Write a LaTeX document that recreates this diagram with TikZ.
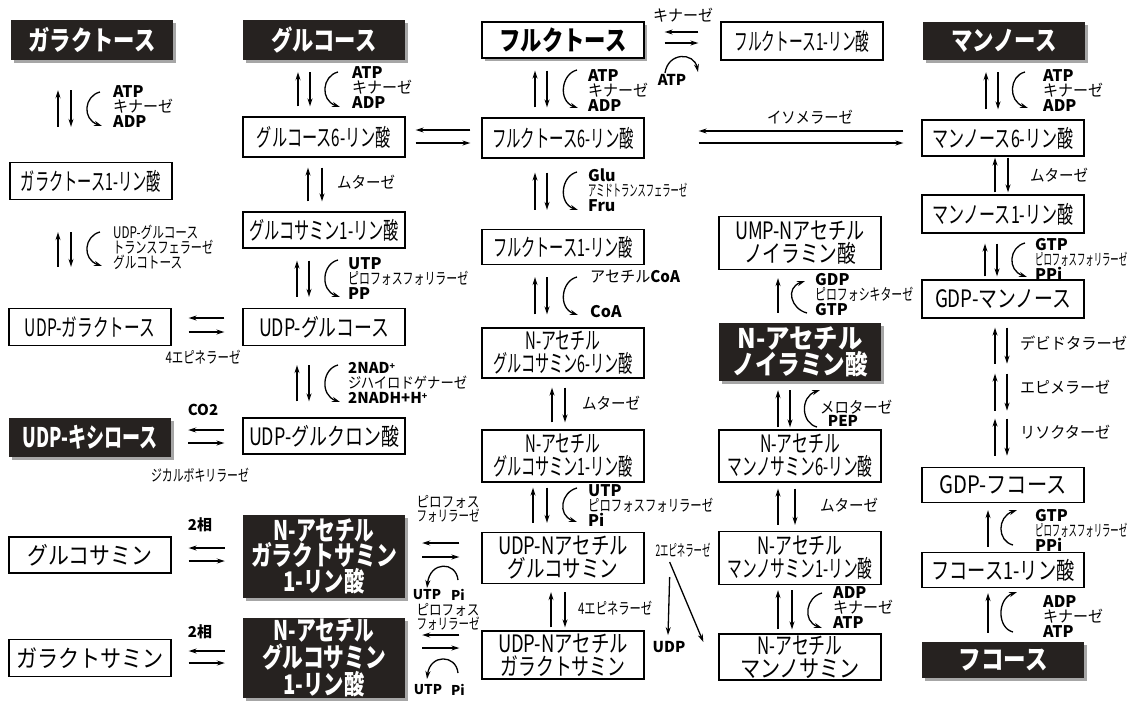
\documentclass[tikz,border=0pt]{standalone}
\usepackage{fontspec}
\setmainfont{Noto Sans CJK JP}
\usetikzlibrary{arrows.meta,shadows,calc}
\definecolor{darkbox}{RGB}{38,34,32}
\newcommand\fw[2]{\resizebox{#1pt}{\height}{#2}}
\newcommand\lat[1]{\textbf{#1}}
\newcommand\supp{\raisebox{0.3em}{\fontsize{9}{9}\selectfont +}}
\tikzset{
 wbox/.style={draw, line width=1.3pt, fill=white, inner sep=0pt, minimum width=162pt, align=center, font=\fontsize{24}{23}\selectfont},
 dbox/.style={fill=darkbox, text=white, inner sep=0pt, minimum width=162pt, align=center, font=\bfseries\fontsize{27}{25}\selectfont, drop shadow={shadow xshift=3pt, shadow yshift=-3pt, fill=black!35, opacity=1}},
 arr/.style={line width=1.3pt, -{Stealth[length=8pt,width=5pt]}},
 curv/.style={line width=1.3pt, -{Stealth[length=8pt,width=5pt]}},
 lbl/.style={font=\fontsize{16}{15}\selectfont, align=left, inner sep=0pt, anchor=west},
 clbl/.style={font=\fontsize{16}{15}\selectfont, align=center, inner sep=0pt},
 blbl/.style={font=\bfseries\fontsize{15}{15}\selectfont, align=center, inner sep=0pt},
}
% vertical pair: top, bottom, dx up, dx down, gap top, gap bottom
\newcommand\vpair[6]{%
 \draw[arr] ($(#1.south |- #2.north)+(#3,-#6)$) -- ($(#1.south)+(#3,#5)$);
 \draw[arr] ($(#1.south)+(#4,#5)$) -- ($(#1.south |- #2.north)+(#4,-#6)$);}
% horizontal pair: left, right, dy of left-pointing, dy of right-pointing, gap left, gap right
\newcommand\hpair[6]{%
 \draw[arr] ($(#2.west |- #1.east)+(-#6,#3)$) -- ($(#1.east)+(#5,#3)$);
 \draw[arr] ($(#1.east)+(#5,#4)$) -- ($(#2.west |- #1.east)+(-#6,#4)$);}
\newcommand\darc[4]{\draw[curv] (#1,#2) .. controls (#1-16,#2+4) and (#3-20,#4-7) .. (#3,#4);}
\newcommand\uarc[4]{\draw[curv] (#1,#2) .. controls (#1-16,#2-4) and (#3-20,#4+7) .. (#3,#4);}
\begin{document}
\begin{tikzpicture}[x=1pt,y=-1pt]
\useasboundingbox[fill=white] (0,0) rectangle (1132,702);
% ---- boxes ----
\node[dbox, minimum height=40pt] (gal) at (92,40) {\fw{127}{ガラクトース}};
\node[dbox, minimum height=40pt] (glc) at (324,40) {\fw{105}{グルコース}};
\node[wbox, minimum height=36pt, font=\bfseries\fontsize{27}{25}\selectfont, drop shadow={shadow xshift=3pt, shadow yshift=-3pt, fill=black!35, opacity=1}] (fru) at (563,40) {\fw{127}{フルクトース}};
\node[wbox, minimum height=38pt] (fru1pt) at (802,41) {\fw{135}{フルクトース1-リン酸}};
\node[dbox, minimum height=38pt] (man) at (1004,41) {\fw{105}{マンノース}};
\node[wbox, minimum height=37pt] (gal1p) at (91,181) {\fw{140}{ガラクトース1-リン酸}};
\node[wbox, minimum height=40pt] (glc6p) at (324,137) {\fw{134}{グルコース6-リン酸}};
\node[wbox, minimum height=40pt] (fru6p) at (563,138) {\fw{142}{フルクトース6-リン酸}};
\node[wbox, minimum height=36pt] (man6p) at (1003,138) {\fw{141}{マンノース6-リン酸}};
\node[wbox, minimum height=36pt] (glcn1p) at (324,230) {\fw{150}{グルコサミン1-リン酸}};
\node[wbox, minimum height=35pt] (fru1p) at (563,247) {\fw{140}{フルクトース1-リン酸}};
\node[wbox, minimum height=53pt] (ump) at (800,243) {\fw{130}{UMP-Nアセチル}\\\fw{112}{ノイラミン酸}};
\node[wbox, minimum height=38pt] (man1p) at (1003,214) {\fw{141}{マンノース1-リン酸}};
\node[wbox, minimum height=37pt] (udpgal) at (90,327) {\fw{130}{UDP-ガラクトース}};
\node[wbox, minimum height=37pt] (udpglc) at (324,327) {\fw{130}{UDP-グルコース}};
\node[wbox, minimum height=50pt] (nag6p) at (563,353) {\fw{75}{N-アセチル}\\\fw{140}{グルコサミン6-リン酸}};
\node[dbox, minimum height=58pt] (neuac) at (800,352) {\fw{125}{N-アセチル}\\\fw{135}{ノイラミン酸}};
\node[wbox, minimum height=38pt] (gdpman) at (1003,299) {\fw{136}{GDP-マンノース}};
\node[dbox, minimum height=39pt] (udpxyl) at (90,437) {\fw{135}{UDP-キシロース}};
\node[wbox, minimum height=36pt] (udpglca) at (324,436) {\fw{150}{UDP-グルクロン酸}};
\node[wbox, minimum height=52pt] (nag1p) at (563,456) {\fw{75}{N-アセチル}\\\fw{140}{グルコサミン1-リン酸}};
\node[wbox, minimum height=52pt] (nam6p) at (800,456) {\fw{80}{N-アセチル}\\\fw{145}{マンノサミン6-リン酸}};
\node[wbox, minimum height=35pt] (gdpfuc) at (1003,485) {\fw{127}{GDP-フコース}};
\node[wbox, minimum height=36pt] (glcn) at (90,555) {\fw{125}{グルコサミン}};
\node[dbox, minimum height=83pt] (nagaln1pd) at (324,556) {\fw{101}{N-アセチル}\\\fw{146}{ガラクトサミン}\\\fw{81}{1-リン酸}};
\node[wbox, minimum height=51pt] (udpglcnac) at (563,558) {\fw{130}{UDP-Nアセチル}\\\fw{111}{グルコサミン}};
\node[wbox, minimum height=53pt] (nam1p) at (800,558) {\fw{85}{N-アセチル}\\\fw{145}{マンノサミン1-リン酸}};
\node[wbox, minimum height=35pt] (fuc1p) at (1003,570) {\fw{143}{フコース1-リン酸}};
\node[wbox, minimum height=37pt] (galn) at (90,658) {\fw{148}{ガラクトサミン}};
\node[dbox, minimum height=80pt] (naglcn1pd) at (324,658) {\fw{101}{N-アセチル}\\\fw{124}{グルコサミン}\\\fw{81}{1-リン酸}};
\node[wbox, minimum height=48pt] (udpgalnac) at (563,655) {\fw{130}{UDP-Nアセチル}\\\fw{125}{ガラクトサミン}};
\node[wbox, minimum height=46pt] (nam) at (800,657) {\fw{85}{N-アセチル}\\\fw{120}{マンノサミン}};
\node[dbox, minimum height=36pt] (fuc) at (1003,660) {\fw{89}{フコース}};
% ---- vertical pairs ----
\vpair{gal}{gal1p}{-34}{-21}{30}{35}
\vpair{glc}{glc6p}{-26}{-14}{12}{10}
\vpair{glc6p}{glcn1p}{-16}{-2}{10}{10}
\vpair{glcn1p}{udpglc}{-27}{-15}{12}{11}
\vpair{udpglc}{udpglca}{-27}{-15}{19}{16}
\vpair{gal1p}{udpgal}{-33}{-20}{32}{41}
\vpair{fru}{fru6p}{-28}{-16}{12}{10}
\vpair{fru6p}{fru1p}{-28}{-16}{14}{19}
\vpair{fru1p}{nag6p}{-28}{-16}{12}{13}
\vpair{nag6p}{nag1p}{-11}{2}{9}{7}
\vpair{nag1p}{udpglcnac}{-30}{-16}{5}{9}
\vpair{udpglcnac}{udpgalnac}{-12}{2}{8}{3}
\vpair{man}{man6p}{-18}{-6}{12}{10}
\vpair{man6p}{man1p}{-8}{5}{1}{2}
\vpair{man1p}{gdpman}{-18}{-6}{10}{3}
\vpair{neuac}{nam6p}{-22}{-10}{9}{2}
\vpair{nam6p}{nam1p}{-22}{-5}{6}{6}
\vpair{nam1p}{nam}{-22}{-8}{5}{4}
\foreach \a/\b in {9/45,55/92,100/137}{
 \draw[arr] ($(gdpman.south)+(-8,\b)$) -- ($(gdpman.south)+(-8,\a)$);
 \draw[arr] ($(gdpman.south)+(4,\a)$) -- ($(gdpman.south)+(4,\b)$);}
% single up arrows
\draw[arr] ($(ump.south |- neuac.north)+(-22,-10)$) -- ($(ump.south)+(-22,8)$);
\draw[arr] ($(gdpfuc.south |- fuc1p.north)+(-15,-5)$) -- ($(gdpfuc.south)+(-15,7)$);
\draw[arr] ($(fuc1p.south |- fuc.north)+(-15,-9)$) -- ($(fuc1p.south)+(-15,5)$);
% ---- horizontal pairs ----
\hpair{udpgal}{udpglc}{-9}{5}{17}{18}
\hpair{udpxyl}{udpglca}{-7}{6}{17}{18}
\hpair{glcn}{nagaln1pd}{-7}{6}{17}{18}
\hpair{galn}{naglcn1pd}{-7}{5}{17}{18}
\hpair{glc6p}{fru6p}{-7}{6}{10}{11}
\hpair{nagaln1pd}{udpglcnac}{-13}{1}{17}{22}
\hpair{naglcn1pd}{udpgalnac}{-23}{-10}{17}{22}
\hpair{fru}{fru1pt}{-8}{3}{20}{22}
\hpair{fru6p}{man6p}{-7}{5}{54}{18}
% ---- epimerase arrows ----
\node[blbl] (udp) at (669,647) {UDP};
\node[clbl] (epi2) at (683,550) {\fw{55}{2エピネラーゼ}};
\draw[arr] ($(udpglcnac.east)+(25,19)$) -- ($(udp.north)+(-1,-6)$);
\draw[arr] ($(udpglcnac.east)+(25,4)$) -- ($(nam.west)+(-15,-15)$);
% ---- curved arrows ----
\darc{100}{92}{102}{126}
\darc{338}{72}{340}{107}
\darc{577}{70}{578}{108}
\darc{1025}{72}{1028}{108}
\darc{577}{172}{578}{210}
\darc{100}{232}{102}{266}
\darc{338}{260}{340}{297}
\darc{338}{365}{340}{402}
\darc{577}{277}{578}{315}
\darc{1025}{243}{1027}{277}
\darc{577}{488}{577}{522}
\darc{822}{593}{822}{628}
\uarc{807}{313}{805}{281}
\uarc{817}{427}{820}{390}
\uarc{1013}{545}{1017}{510}
\uarc{1013}{632}{1017}{592}
\draw[curv] (665,73) .. controls (668,52) and (694,52) .. (698,72);
\draw[curv] (458,580) .. controls (456,561) and (430,561) .. (427,588);
\draw[curv] (458,673) .. controls (456,654) and (430,654) .. (427,679);
% ---- labels ----
\node[lbl] (l1) at (113,107) {\lat{ATP}\\\fw{60}{キナーゼ}\\\lat{ADP}};
\node[lbl] (l2) at (352,88) {\lat{ATP}\\\fw{60}{キナーゼ}\\\lat{ADP}};
\node[lbl] (l3) at (588,91) {\lat{ATP}\\\fw{60}{キナーゼ}\\\lat{ADP}};
\node[lbl] (l4) at (1043,91) {\lat{ATP}\\\fw{60}{キナーゼ}\\\lat{ADP}};
\node[lbl] (l5) at (113,247) {\fw{85}{UDP-グルコース}\\\fw{100}{トランスフェラーゼ}\\\fw{69}{グルコトース}};
\node[lbl] (l6) at (348,279) {\lat{UTP}\\\fw{120}{ピロフォスフォリラーゼ}\\\lat{PP}};
\node[lbl, font=\fontsize{15}{15}\selectfont] (l7) at (348,383) {\lat{2NAD\supp}\\\fw{119}{ジハイロドゲナーゼ}\\\lat{2NADH+H\supp}};
\node[lbl] (l8) at (588,190) {\lat{Glu}\\\fw{99}{アミドトランスフェラーゼ}\\\lat{Fru}};
\node[lbl] (l9) at (590,277) {\fw{90}{アセチル\lat{CoA}}};
\node[lbl] (l10) at (590,312) {\lat{CoA}};
\node[lbl] (l11) at (337,182) {\fw{58}{ムターゼ}};
\node[lbl] (l12) at (582,403) {\fw{58}{ムターゼ}};
\node[lbl] (l13) at (588,506) {\lat{UTP}\\\fw{125}{ピロフォスフォリラーゼ}\\\lat{Pi}};
\node[lbl] (l14) at (578,608) {\fw{74}{4エピネラーゼ}};
\node[lbl] (l15) at (815,295) {\lat{GDP}\\\fw{98}{ピロフォシキターゼ}\\\lat{GTP}};
\node[lbl] (l16) at (820,407) {\fw{72}{メロターゼ}};
\node[blbl] (l17) at (843,421) {PEP};
\node[lbl] (l18) at (820,505) {\fw{58}{ムターゼ}};
\node[lbl] (l19) at (833,608) {\lat{ADP}\\\fw{60}{キナーゼ}\\\lat{ATP}};
\node[lbl] (l20) at (1030,175) {\fw{58}{ムターゼ}};
\node[lbl] (l21) at (1035,259) {\lat{GTP}\\\fw{92}{ピロフォスフォリラーゼ}\\\lat{PPi}};
\node[lbl] (l22) at (1020,343) {\fw{107}{デビドタラーゼ}};
\node[lbl] (l23) at (1020,387) {\fw{90}{エピメラーゼ}};
\node[lbl] (l24) at (1020,432) {\fw{90}{リソクターゼ}};
\node[lbl] (l25) at (1035,530) {\lat{GTP}\\\fw{92}{ピロフォスフォリラーゼ}\\\lat{PPi}};
\node[lbl] (l26) at (1043,617) {\lat{ADP}\\\fw{60}{キナーゼ}\\\lat{ATP}};
\node[clbl] (l27) at (683,15) {\fw{60}{キナーゼ}};
\node[blbl] (l28) at (672,80) {ATP};
\node[clbl] (l29) at (810,117) {\fw{86}{イソメラーゼ}};
\node[clbl] (l30) at (203,357) {\fw{75}{4エピネラーゼ}};
\node[blbl] (l31) at (203,410) {CO2};
\node[clbl] (l32) at (200,475) {\fw{98}{ジカルボキリラーゼ}};
\node[blbl] (l33) at (200,525) {2相};
\node[blbl] (l34) at (200,632) {2相};
\node[clbl, font=\fontsize{15}{13}\selectfont] (l35) at (448,509) {\fw{63}{ピロフォス}\\\fw{63}{フォリラーゼ}};
\node[clbl, font=\fontsize{15}{14}\selectfont] (l36) at (448,617) {\fw{63}{ピロフォス}\\\fw{63}{フォリラーゼ}};
\node[blbl, font=\bfseries\fontsize{13.5}{15}\selectfont] (l37) at (427,595) {UTP};
\node[blbl, font=\bfseries\fontsize{13.5}{15}\selectfont] (l38) at (458,595) {Pi};
\node[blbl, font=\bfseries\fontsize{13.5}{15}\selectfont] (l39) at (428,690) {UTP};
\node[blbl, font=\bfseries\fontsize{13.5}{15}\selectfont] (l40) at (458,690) {Pi};
\end{tikzpicture}
\end{document}
